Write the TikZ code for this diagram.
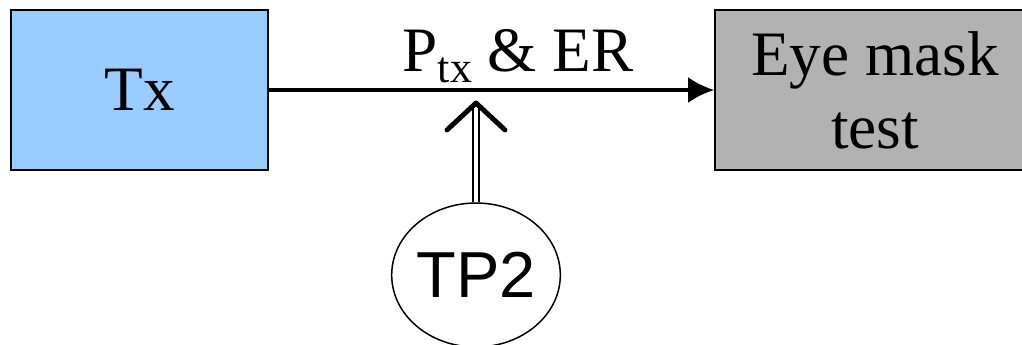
\documentclass[tikz,border=0pt]{standalone}
\usepackage{fontspec}
\setmainfont{Liberation Serif}
\newfontfamily\tpfont{Liberation Sans}
\usepackage{xcolor}
\usepackage{tikz}
\usetikzlibrary{arrows.meta,positioning,shapes.geometric,calc}
\definecolor{TxBlue}{HTML}{99CCFF}
\definecolor{MaskGray}{HTML}{B2B2B2}
\tikzset{
  blockbox/.style={draw=black,line width=1.1pt,align=center,inner sep=0pt,font=\fontsize{36}{41.4}\selectfont},
  sigarrow/.style={-{Latex[length=0.52cm,width=0.52cm]},line width=1.8pt,draw=black},
  probeline/.style={double,line width=0.8pt,double distance=2.4pt,draw=black},
  chevron/.style={line width=2.8pt,line cap=round,line join=round,draw=black},
  probenode/.style={ellipse,draw=black,line width=0.85pt,inner sep=0pt,font=\tpfont\fontsize{37}{40}\selectfont}
}
\begin{document}
\begin{tikzpicture}
\useasboundingbox (0,0) rectangle (20.44,-6.9);
\node[blockbox,fill=TxBlue,minimum width=5.14cm,minimum height=3.2cm] (tx) at (2.79,-1.8) {Tx};
\node[blockbox,fill=MaskGray,minimum width=6.4cm,minimum height=3.2cm] (mask) at (17.5,-1.8) {Eye mask\\test};
\node[probenode,minimum width=3.24cm,minimum height=2.88cm] (tp2) at (9.52,-5.5) {TP2};
\coordinate (tip) at (9.52,-2.06);
% signal path with measured quantities
\draw[sigarrow] (tx.east) -- (mask.west)
  node[pos=0.56,anchor=base,yshift=0.38cm,inner sep=0pt] (lbl) {\fontsize{36}{40}\selectfont P\raisebox{-6.3pt}{\fontsize{25}{28}\selectfont tx} \& ER};
% test point probe
\draw[probeline,shorten >=1pt] (tp2.north) -- (tip);
\draw[chevron] ($(tip)+(-0.58,-0.54)$) -- (tip) -- ++(0.58,-0.54);
\end{tikzpicture}
\end{document}
